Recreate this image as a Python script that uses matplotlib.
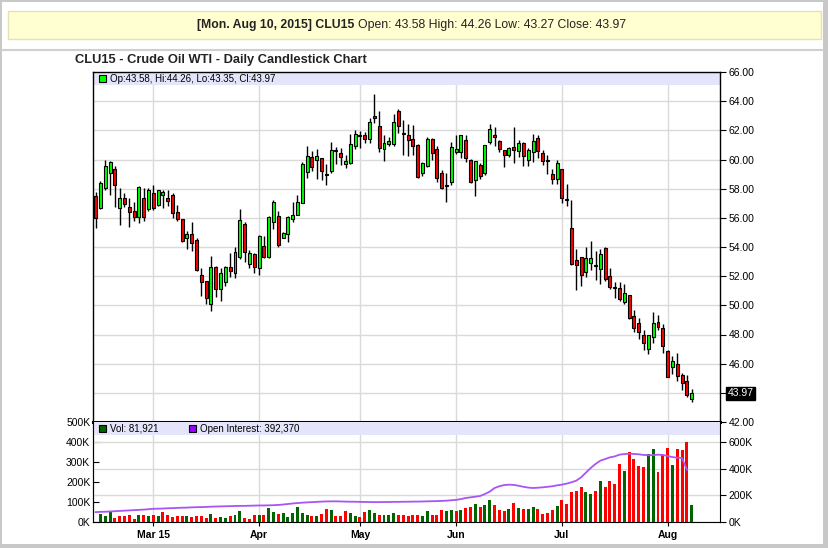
import matplotlib
matplotlib.use('Agg')
import matplotlib.pyplot as plt
import matplotlib.transforms as mtransforms
from matplotlib.patches import Rectangle
from matplotlib.lines import Line2D
import numpy as np
import pandas as pd

plt.rcParams['font.family'] = ['Liberation Sans', 'DejaVu Sans']

#------------------ data ------------------------------
holidays = ['2015-02-16', '2015-04-03', '2015-05-25', '2015-07-03']
days = pd.bdate_range('2015-02-11', '2015-08-10')
days = days[~days.isin(pd.to_datetime(holidays))]

opens = [57.50, 56.70, 58.06, 59.10, 59.38, 56.69, 57.33, 56.73, 56.50, 56.07,
         57.33, 56.62, 57.67, 56.91, 57.60, 57.33, 57.55, 56.39, 55.89, 54.63,
         54.86, 54.47, 52.05, 51.66, 50.06, 52.60, 51.13, 51.61, 52.64, 52.20,
         53.31, 55.60, 52.85, 53.54, 52.55, 54.04, 53.31, 55.74, 56.15, 54.64,
         54.91, 55.95, 56.22, 57.05, 59.16, 60.17, 59.94, 60.07, 59.04, 59.20,
         60.65, 60.46, 59.68, 59.75, 60.90, 61.70, 61.70, 61.42, 62.95, 62.33,
         60.74, 61.03, 61.03, 63.36, 61.85, 61.70, 61.42, 61.00, 59.07, 59.55,
         61.42, 60.74, 59.09, 58.27, 58.45, 60.51, 60.52, 61.36, 60.00, 58.57,
         59.61, 59.09, 61.20, 61.70, 61.30, 60.68, 60.34, 60.89, 60.57, 61.14,
         60.00, 60.52, 61.48, 60.45, 59.95, 58.98, 58.64, 59.32, 57.27, 55.32,
         53.08, 53.30, 52.32, 52.92, 52.74, 52.51, 53.93, 51.98, 51.25, 51.18,
         50.22, 50.72, 49.24, 48.80, 48.00, 47.02, 47.82, 48.89, 48.46, 46.90,
         45.76, 45.99, 45.19, 44.80, 43.58]
highs = [57.80, 58.50, 60.00, 59.90, 59.54, 58.06, 57.70, 57.37, 57.07, 58.17,
         58.06, 58.06, 58.22, 57.94, 57.94, 57.94, 57.71, 56.85, 55.95, 55.09,
         55.70, 54.63, 52.57, 51.70, 53.37, 52.70, 52.55, 52.70, 53.56, 53.97,
         56.61, 55.70, 53.80, 53.60, 54.84, 54.73, 56.15, 57.20, 56.45, 55.00,
         56.10, 57.10, 57.55, 59.80, 60.92, 60.58, 60.70, 60.10, 59.66, 61.20,
         60.85, 60.80, 60.30, 61.76, 62.04, 61.95, 61.90, 62.86, 64.46, 63.36,
         61.65, 61.53, 63.13, 63.47, 62.70, 62.45, 62.40, 61.08, 59.80, 61.53,
         61.45, 60.90, 59.25, 59.09, 61.19, 61.65, 61.70, 61.66, 60.02, 59.93,
         59.73, 61.02, 62.45, 62.20, 61.36, 60.68, 60.86, 62.20, 61.36, 61.20,
         60.80, 61.75, 61.70, 60.68, 60.30, 59.32, 60.00, 59.32, 58.30, 57.20,
         53.84, 53.30, 54.00, 54.38, 53.70, 53.88, 54.00, 52.58, 51.60, 51.60,
         51.43, 50.72, 49.65, 49.12, 48.32, 48.00, 49.53, 49.35, 48.69, 46.95,
         46.50, 46.74, 45.35, 45.19, 44.26]
lows = [55.30, 56.60, 57.90, 57.60, 56.75, 55.54, 56.75, 55.38, 55.77, 55.66,
        55.77, 56.46, 56.53, 56.80, 56.69, 56.80, 56.00, 55.77, 54.35, 53.83,
        53.71, 52.34, 50.63, 50.06, 49.60, 50.60, 50.33, 51.36, 51.93, 51.90,
        53.17, 52.96, 52.53, 52.20, 52.09, 53.25, 53.25, 55.26, 54.00, 54.60,
        54.34, 55.70, 56.20, 57.00, 58.70, 59.20, 58.63, 58.58, 58.28, 59.09,
        59.70, 59.60, 59.40, 59.70, 60.73, 60.80, 61.10, 61.15, 62.50, 60.50,
        59.87, 60.96, 60.96, 61.83, 60.30, 60.23, 60.30, 58.73, 58.84, 59.48,
        59.94, 58.45, 57.95, 57.08, 58.27, 60.40, 60.10, 59.84, 58.41, 57.50,
        58.64, 58.93, 61.09, 60.90, 60.52, 59.50, 60.18, 59.73, 60.16, 59.55,
        59.55, 59.84, 60.11, 59.61, 59.02, 58.34, 58.34, 57.05, 56.80, 52.74,
        51.02, 51.32, 51.94, 52.44, 51.75, 51.43, 51.64, 51.13, 50.52, 50.29,
        50.10, 49.08, 48.16, 47.70, 46.95, 46.67, 47.40, 48.32, 46.72, 45.07,
        45.30, 44.84, 44.20, 43.70, 43.35]
closes = [56.00, 58.40, 59.54, 59.80, 58.22, 57.33, 56.98, 56.41, 56.07, 58.10,
          56.07, 57.90, 56.69, 57.90, 57.78, 57.14, 56.34, 55.93, 54.40, 54.86,
          54.29, 52.41, 51.61, 50.51, 52.64, 51.13, 52.25, 52.64, 52.37, 53.67,
          55.88, 53.63, 53.58, 52.64, 54.73, 53.31, 56.08, 57.11, 54.11, 54.98,
          56.04, 56.22, 57.11, 59.66, 60.21, 59.50, 60.21, 59.20, 58.97, 60.62,
          60.55, 60.16, 59.91, 61.08, 61.76, 61.60, 61.42, 62.60, 62.88, 60.80,
          61.15, 61.24, 62.60, 62.29, 61.75, 61.35, 60.92, 58.77, 59.78, 61.42,
          60.44, 58.75, 58.04, 58.20, 60.83, 60.70, 61.66, 60.11, 58.48, 59.89,
          58.86, 60.98, 62.11, 61.55, 60.75, 60.34, 60.80, 60.68, 61.14, 60.27,
          60.68, 61.30, 60.57, 59.93, 59.89, 58.64, 59.77, 57.34, 57.20, 52.85,
          52.74, 52.10, 53.26, 53.26, 52.67, 53.50, 51.82, 51.25, 51.18, 50.45,
          50.86, 49.14, 48.46, 48.16, 47.40, 48.00, 48.80, 48.50, 47.18, 45.12,
          46.16, 45.14, 44.68, 43.86, 43.97]

# volume and open interest, thousands of contracts
volume = [np.nan, 62, 47, 85, 32, 47, 42, 55, 25, 55,
          55, 42, 55, 42, 75, 55, 40, 47, 42, 47,
          40, 47, 42, 32, 62, 32, 40, 32, 47, 55,
          85, 30, 22, 55, 55, 55, 107, 77, 62, 67,
          40, 70, 115, 70, 55, 47, 47, 62, 100, 92,
          47, 47, 85, 70, 47, 40, 77, 92, 70, 55,
          55, 55, 70, 55, 55, 47, 55, 55, 47, 85,
          55, 55, 92, 85, 92, 85, 92, 107, 115, 137,
          115, 130, 167, 130, 92, 85, 100, 145, 107, 100,
          100, 115, 100, 62, 70, 92, 122, 167, 137, 227,
          235, 265, 227, 212, 235, 310, 265, 310, 287, 437,
          385, 527, 475, 422, 415, 512, 550, 377, 505, 557,
          430, 550, 542, 602, 125]
open_int = [74, 76, 77, 79, 81, 83, 85, 87, 89, 91, 93, 96, 99,
            100, 101, 103, 104, 106, 107, 108, 110, 111, 112, 113, 115, 116, 117,
            118, 119, 120, 121, 121, 122, 123, 124,
            124, 125, 126, 128, 131, 135, 139, 142, 145, 147, 149, 151, 153, 154,
            155, 155, 154, 153, 152, 152, 151,
            150, 150, 149, 149, 150, 150, 151, 151, 152, 152, 153, 153, 154, 155,
            156, 157, 158, 160, 163, 166,
            172, 180, 185, 190, 195, 210, 228, 255, 268, 277, 280, 278, 272, 264,
            258, 255, 257, 260, 264, 268, 275, 280,
            288, 298, 310, 335, 370, 405, 435, 460, 472, 485, 492, 505, 510, 512,
            510, 508, 503, 500, 502, 505, 503, 495,
            487, 482, 480, 392, np.nan]

month_labels = ['Mar 15', 'Apr', 'May', 'Jun', 'Jul', 'Aug']
price_ticks = np.arange(42, 66.1, 2)
vol_ticks = [0, 200, 400, 600]
left_ticks = [0, 100, 200, 300, 400, 500]

#------------------ figure ------------------------------
W, H = 829, 548


def rect(x0, y0, x1, y1):
    return [x0 / W, 1 - y1 / H, (x1 - x0) / W, (y1 - y0) / H]


fig = plt.figure(figsize=(W / 100, H / 100), dpi=100)
fig.patch.set_facecolor('#c8c8c8')
fig.add_artist(Rectangle((2 / W, 1 - 544 / H), 821 / W, 542 / H, transform=fig.transFigure,
                         facecolor='white', edgecolor='none', zorder=-1))
fig.add_artist(Line2D([2 / W, 823 / W], [1 - 50 / H] * 2, transform=fig.transFigure,
                      color='#cfcfcf', lw=1.5))

# header box
fig.add_artist(Rectangle((8 / W, 1 - 39 / H), 813 / W, 28 / H, transform=fig.transFigure,
                         facecolor='#ffffd2', edgecolor='#e2e2b4', lw=1))
fig.text(354 / W, 1 - 25 / H, '[Mon. Aug 10, 2015] CLU15', ha='right', va='center',
         weight='bold', size=8.8, color='#222222')
fig.text(358 / W, 1 - 25 / H, 'Open: 43.58 High: 44.26 Low: 43.27 Close: 43.97',
         ha='left', va='center', size=8.8, color='#222222')
fig.text(75 / W, 1 - 60 / H, 'CLU15 - Crude Oil WTI - Daily Candlestick Chart',
         ha='left', va='center', weight='bold', size=9.3, color='#222222')

ax = fig.add_axes(rect(93, 72, 720, 422))
axv = fig.add_axes(rect(93, 422, 720, 522), sharex=ax)

o = np.array(opens)
h = np.array(highs)
l = np.array(lows)
c = np.array(closes)
x = np.arange(len(c))
months = np.array(days.month)
month_idx = [int(np.argmax(months == m)) for m in [3, 4, 5, 6, 7, 8]]

# candles
body_col = np.where(c >= o, '#00ff00', '#ff0000')
ax.vlines(x, l, h, color='black', lw=1, zorder=3)
ax.bar(x, np.abs(c - o), bottom=np.minimum(o, c), width=0.62, color=body_col,
       edgecolor='black', linewidth=0.8, zorder=4)

ax.set_xlim(-0.54, 129.9)
ax.set_ylim(42, 66)
ax.set_yticks(price_ticks)
ax.set_yticklabels(['%.2f' % v for v in price_ticks])
ax.yaxis.tick_right()
ax.tick_params(axis='y', direction='out', length=4, labelsize=7.5, pad=2)
ax.set_xticks(month_idx)
ax.tick_params(axis='x', length=0, labelbottom=False)
ax.grid(True, color='#dadada', lw=1)
ax.set_axisbelow(True)
for s in ['left', 'right', 'top']:
    ax.spines[s].set_linewidth(1)
ax.spines['bottom'].set_linewidth(2.2)
ax.add_patch(Rectangle((0, 1 - 13 / 350), 1, 13 / 350, transform=ax.transAxes,
                       facecolor='#e4e4fa', edgecolor='none', zorder=2))

# last price marker
tr = mtransforms.blended_transform_factory(ax.transAxes, ax.transData)
ax.text(1 + 7.5 / 627, c[-1], '%.2f' % c[-1], transform=tr, ha='left', va='center',
        size=7.5, color='white',
        bbox=dict(boxstyle='square,pad=0.12', fc='black', ec='black'))

# price legend
fig.add_artist(Rectangle((99 / W, 1 - 82 / H), 7 / W, 7 / H, transform=fig.transFigure,
                         facecolor='#00ff00', edgecolor='black', lw=0.8))
fig.text(110 / W, 1 - 78.5 / H, 'Op:43.58, Hi:44.26, Lo:43.35, Cl:43.97',
         ha='left', va='center', size=7)

# volume + open interest
prev = np.r_[np.nan, c[:-1]]
vol_col = np.where(c >= prev, '#006400', '#ff0000')
axv.bar(x, volume, width=0.62, color=vol_col, zorder=3)
axv.plot(x, open_int, color='#a855f7', lw=1.3, zorder=4)

axv.set_ylim(0, 750)
axv.set_yticks(vol_ticks)
axv.set_yticklabels(['%dK' % v for v in vol_ticks])
axv.yaxis.tick_right()
axv.tick_params(axis='y', direction='out', length=4, labelsize=7.5, pad=2)
axv.set_xticks(month_idx)
axv.set_xticklabels(month_labels, weight='bold', size=7.5)
axv.tick_params(axis='x', direction='out', length=3, pad=3)
axv.grid(True, color='#dadada', lw=1)
axv.set_axisbelow(True)
axv.spines['top'].set_visible(False)
axv.add_patch(Rectangle((0, 0.87), 1, 0.13, transform=axv.transAxes,
                        facecolor='#e4e4fa', edgecolor='none', zorder=2))

sec = axv.secondary_yaxis('left', functions=(lambda v: v * 2 / 3, lambda v: v * 1.5))
sec.set_yticks(left_ticks)
sec.set_yticklabels(['%dK' % v for v in left_ticks])
sec.tick_params(direction='in', length=4, labelsize=7.5, pad=2)

# volume legend
fig.add_artist(Rectangle((99 / W, 1 - 432 / H), 7 / W, 7 / H, transform=fig.transFigure,
                         facecolor='#006400', edgecolor='black', lw=0.8))
fig.text(110 / W, 1 - 428.5 / H, 'Vol: 81,921', ha='left', va='center', size=7)
fig.add_artist(Rectangle((189 / W, 1 - 432 / H), 7 / W, 7 / H, transform=fig.transFigure,
                         facecolor='#9900ff', edgecolor='black', lw=0.8))
fig.text(200 / W, 1 - 428.5 / H, 'Open Interest: 392,370', ha='left', va='center', size=7)

fig.savefig('out.png', dpi=100)
